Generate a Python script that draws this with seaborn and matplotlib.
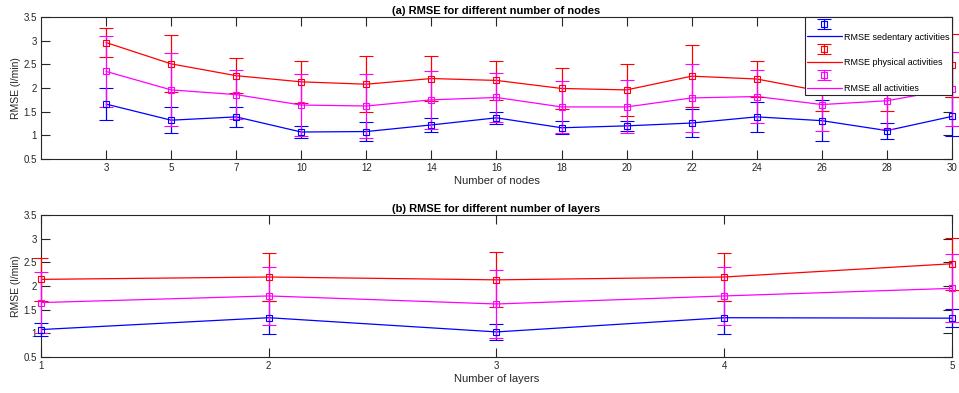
import numpy as np
import pandas as pd
import matplotlib
matplotlib.use("Agg")
import matplotlib.pyplot as plt
import seaborn as sns
from matplotlib.lines import Line2D
from matplotlib.legend_handler import HandlerErrorbar
from matplotlib.container import ErrorbarContainer

# ---------------- data ----------------
nodes = [3, 5, 7, 10, 12, 14, 16, 18, 20, 22, 24, 26, 28, 30]
sed_nodes = [1.66, 1.32, 1.39, 1.07, 1.08, 1.22, 1.37, 1.16, 1.20, 1.26, 1.39, 1.31, 1.10, 1.40]
sed_nodes_err = [0.33, 0.28, 0.21, 0.12, 0.20, 0.15, 0.13, 0.14, 0.10, 0.29, 0.32, 0.43, 0.17, 0.41]
phys_nodes = [2.96, 2.51, 2.26, 2.13, 2.08, 2.20, 2.16, 1.99, 1.96, 2.25, 2.19, 1.93, 1.97, 2.48]
phys_nodes_err = [0.30, 0.60, 0.37, 0.45, 0.59, 0.47, 0.42, 0.43, 0.55, 0.66, 0.39, 0.42, 0.45, 0.67]
all_nodes = [2.35, 1.96, 1.86, 1.64, 1.62, 1.75, 1.80, 1.60, 1.60, 1.79, 1.82, 1.65, 1.73, 1.98]
all_nodes_err = [0.75, 0.77, 0.52, 0.65, 0.68, 0.61, 0.51, 0.55, 0.56, 0.72, 0.55, 0.55, 0.60, 0.78]

layers = [1, 2, 3, 4, 5]
sed_layers = [1.08, 1.33, 1.03, 1.33, 1.32]
sed_layers_err = [0.13, 0.35, 0.17, 0.35, 0.19]
phys_layers = [2.14, 2.19, 2.13, 2.19, 2.47]
phys_layers_err = [0.45, 0.50, 0.58, 0.50, 0.55]
all_layers = [1.65, 1.79, 1.62, 1.79, 1.95]
all_layers_err = [0.65, 0.62, 0.71, 0.62, 0.72]

labels = ["RMSE sedentary activities", "RMSE physical activities", "RMSE all activities"]
colors = ["#0000ff", "#ff0000", "#ff00ff"]
yticks = [0.5, 1, 1.5, 2, 2.5, 3, 3.5]
ytick_labels = ["0.5", "1", "1.5", "2", "2.5", "3", "3.5"]

# ---------------- style ----------------
sns.set_style("ticks")
plt.rcParams["font.family"] = ["Liberation Sans", "DejaVu Sans"]
dark = "#262626"
plt.rcParams.update({
    "axes.edgecolor": dark,
    "axes.linewidth": 0.8,
    "xtick.color": dark,
    "ytick.color": dark,
    "xtick.labelcolor": dark,
    "ytick.labelcolor": dark,
    "text.color": "black",
    "axes.labelcolor": dark,
})

fig = plt.figure(figsize=(9.59, 3.93), dpi=100)
ax1 = fig.add_axes([41 / 959, 1 - 159 / 393, (952 - 41) / 959, 142 / 393])
ax2 = fig.add_axes([41 / 959, 1 - 357 / 393, (952 - 41) / 959, 142 / 393])


def draw(ax, xpos, series, errs):
    handles = []
    for vals, err, c, lab in zip(series, errs, colors, labels):
        sns.lineplot(x=xpos, y=vals, color=c, lw=0.9, ax=ax, legend=False)
        eb = ax.errorbar(xpos, vals, yerr=err, fmt="s", ms=4.6, mfc="none", mec=c,
                         mew=0.8, ecolor=c, elinewidth=0.9, capsize=4.8, capthick=0.9,
                         zorder=3)
        for art in [eb[0], *eb[1], *eb[2]]:
            art.set_clip_on(False)
        handles.append(eb)
        handles.append(Line2D([], [], color=c, lw=0.9))
    return handles


idx = list(range(1, len(nodes) + 1))
h = draw(ax1, idx, [sed_nodes, phys_nodes, all_nodes],
         [sed_nodes_err, phys_nodes_err, all_nodes_err])
draw(ax2, layers, [sed_layers, phys_layers, all_layers],
     [sed_layers_err, phys_layers_err, all_layers_err])

for ax in (ax1, ax2):
    ax.set_ylim(0.5, 3.5)
    ax.set_yticks(yticks)
    ax.set_yticklabels(ytick_labels)
    ax.tick_params(direction="in", length=6.5, width=0.8, labelsize=7,
                   top=True, right=True, pad=3)
    ax.set_ylabel("RMSE (l/min)", fontsize=7.5, labelpad=2)
    for s in ax.spines.values():
        s.set_visible(True)

ax1.set_xlim(0, len(nodes))
ax1.set_xticks(idx)
ax1.set_xticklabels([str(n) for n in nodes])
ax1.set_xlabel("Number of nodes", fontsize=8, labelpad=2)
ax1.set_title("(a) RMSE for different number of nodes", fontsize=8, fontweight="bold", pad=2.5)

ax2.set_xlim(1, 5)
ax2.set_xticks(layers)
ax2.set_xticklabels([str(v) for v in layers])
ax2.set_xlabel("Number of layers", fontsize=8, labelpad=2)
ax2.set_title("(b) RMSE for different number of layers", fontsize=8, fontweight="bold", pad=2.5)

leg_labels = ["", labels[0], "", labels[1], "", labels[2]]
leg = ax1.legend(h, leg_labels, loc="upper right", fontsize=6.5, frameon=True,
                 fancybox=False, borderaxespad=0, handlelength=3.8, handletextpad=0.25,
                 labelspacing=0.42, borderpad=0.3,
                 handler_map={ErrorbarContainer: HandlerErrorbar(xerr_size=0.55)})
leg.get_frame().set_edgecolor(dark)
leg.get_frame().set_linewidth(0.8)
leg.get_frame().set_alpha(1)

fig.savefig("out.png", dpi=100)
